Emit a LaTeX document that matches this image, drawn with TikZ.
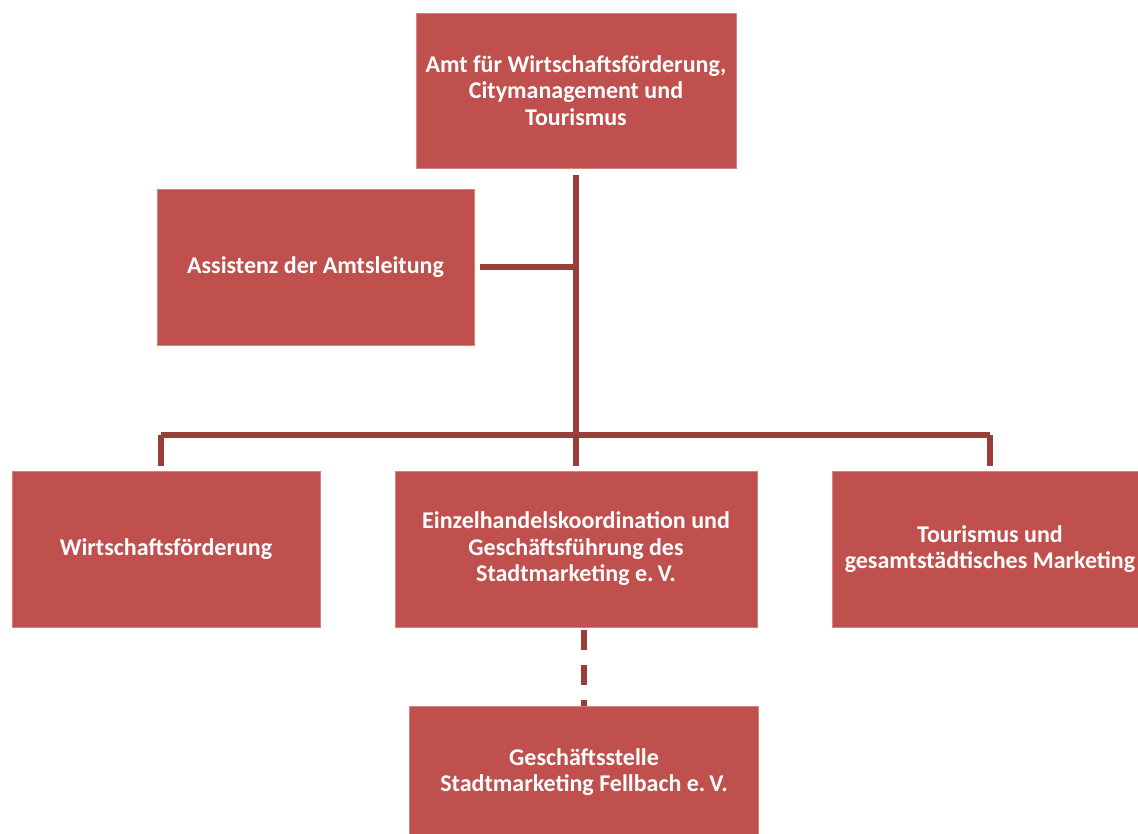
\documentclass[tikz,border=0pt]{standalone}
\usepackage{fontspec}
\setmainfont{Carlito}
\usetikzlibrary{positioning}
\definecolor{boxred}{HTML}{C0504D}
\definecolor{linered}{HTML}{9B3D3B}
\tikzset{
  orgbox/.style = {rectangle, fill=boxred, draw=boxred!70!white, line width=0.8pt,
    text=white, align=center, inner sep=0pt,
    font=\fontsize{24}{26.5}\selectfont\bfseries},
  orgline/.style = {draw=linered, line width=5.5pt},
}
\begin{document}
\begin{tikzpicture}[x=1pt, y=-1pt]
    \useasboundingbox (0,0) rectangle (1138,833);
    \clip (0,0) rectangle (1138,833);
    % boxes
    \node[orgbox, minimum width=320pt, minimum height=155pt] (amt) at (576,90.5)
        {Amt für Wirtschaftsförderung,\\Citymanagement und\\Tourismus};
    \node[orgbox, minimum width=317pt, minimum height=156pt] (assist) at (315.5,267)
        {Assistenz der Amtsleitung};
    \node[orgbox, minimum width=308pt, minimum height=156pt] (wirt) at (166,549)
        {Wirtschaftsförderung};
    \node[orgbox, minimum width=362pt, minimum height=156pt] (einzel) at (576,549)
        {Einzelhandelskoordination und\\Geschäftsführung des\\Stadtmarketing e.\,V.};
    \node[orgbox, minimum width=316pt, minimum height=156pt] (tour) at (990,549)
        {Tourismus und\\gesamtstädtisches Marketing};
    \node[orgbox, minimum width=349pt, minimum height=132pt] (gesch) at (584,772)
        {Geschäftsstelle\\Stadtmarketing Fellbach e.\,V.};
    \coordinate (bus) at (576,435);

    % connectors
    \draw[orgline, shorten <=7pt, shorten >=5pt] (amt.south) -- (einzel.north);
    \draw[orgline, shorten <=6pt] (assist.east) -- (assist.east -| amt.south);
    \draw[orgline] ([xshift=-5pt]wirt.north |- bus) -- (tour.north |- bus);
    \draw[orgline, shorten >=5pt] ([xshift=-5pt]wirt.north |- bus) -- ([xshift=-5pt]wirt.north);
    \draw[orgline, shorten >=5pt] (tour.north |- bus) -- (tour.north);
    \draw[orgline, dash pattern=on 20pt off 15pt, shorten <=3pt]
        (gesch.north |- einzel.south) -- (gesch.north);
\end{tikzpicture}
\end{document}
